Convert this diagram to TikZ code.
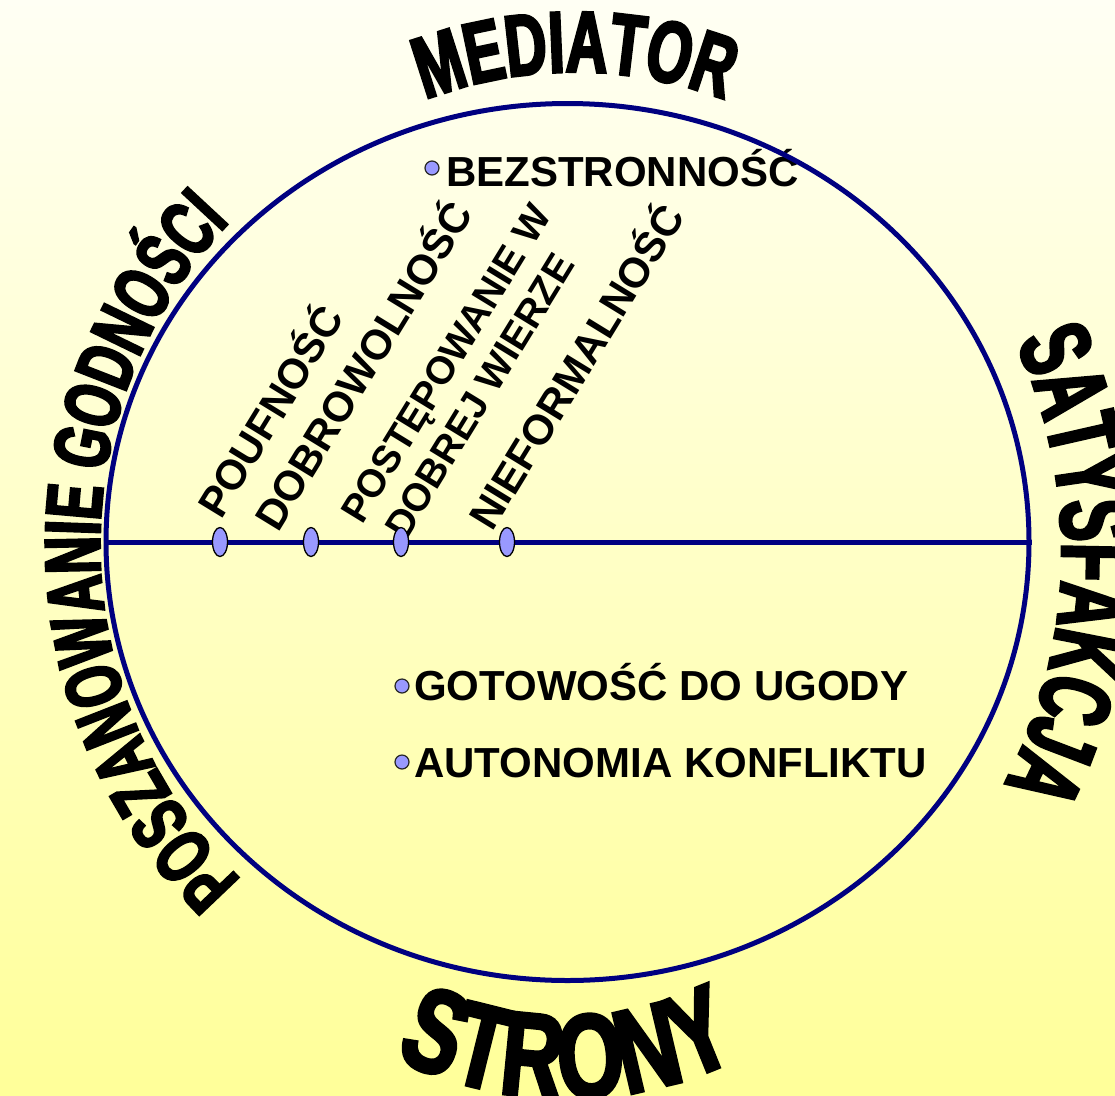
\documentclass[tikz,border=0pt]{standalone}
\usepackage{fontspec}
\setmainfont{Liberation Sans}
\newfontfamily\waA[FakeStretch=0.62,FakeBold=3]{Liberation Sans}
\newfontfamily\waB[FakeStretch=0.66,FakeBold=3]{Liberation Sans}
\newfontfamily\waC[FakeStretch=0.72,FakeBold=3]{Liberation Sans}
\usetikzlibrary{decorations.text,shapes.geometric}
\definecolor{navy}{RGB}{0,0,128}
\definecolor{bblue}{RGB}{153,153,255}
\definecolor{bgtop}{RGB}{255,255,244}
\definecolor{bgbot}{RGB}{255,255,153}
\begin{document}
\begin{tikzpicture}[x=1pt,y=-1pt,
  rtext/.style={anchor=base west, rotate=58.5, inner sep=0pt, font=\bfseries\fontsize{42}{48}\selectfont},
  rtextsmall/.style={rtext, font=\bfseries\fontsize{39}{44}\selectfont},
  htext/.style={anchor=base west, inner sep=0pt, font=\bfseries\fontsize{42}{50}\selectfont},
  bullet/.style={circle, draw=black!85, line width=1.2pt, fill=bblue, minimum size=14pt, inner sep=0pt},
  marker/.style={ellipse, draw=black, line width=1.3pt, fill=bblue, minimum width=15pt, minimum height=29pt, inner sep=0pt},
  rim/.style={draw=navy, line width=5pt},
]
\shade[top color=bgtop, bottom color=bgbot] (0,0) rectangle (1115,1095);
\useasboundingbox (0,0) rectangle (1115,1095);

% arched titles
\path[decorate, decoration={text along path, text align=center,
  text={|\waB\bfseries\fontsize{87}{87}\selectfont|MEDIATOR}}]
  ([shift={(-125:417)}]575,489) arc[start angle=-125, end angle=-55, radius=417];
\path[decorate, decoration={text along path, text align=center,
  text={|\waC\bfseries\fontsize{119}{119}\selectfont|STRONY}}]
  ([shift={(125:390)}]567,708) arc[start angle=125, end angle=55, radius=390];
\path[decorate, decoration={text along path, text align=center,
  text={|\waA\bfseries\fontsize{100}{100}\selectfont|SATYSFAKCJA}}]
  ([shift={(-37:495)}]567,552) arc[start angle=-37, end angle=40, radius=495];
\path[decorate, decoration={text along path, text align=center,
  text={|\waB\bfseries\fontsize{79}{79}\selectfont|POSZANOWANIE GODNOŚCI}}]
  ([shift={(119:467)}]567,545) arc[start angle=119, end angle=239, radius=467];

% rotated labels
\node[rtext] (pouf) at (221,521) {POUFNOŚĆ};
\node[rtext] (dobr) at (278,534) {DOBROWOLNOŚĆ};
\node[rtextsmall] (post) at (362,526) {POSTĘPOWANIE W};
\node[rtextsmall] (wier) at (406,542) {DOBREJ WIERZE};
\node[rtext] (nief) at (492,533) {NIEFORMALNOŚĆ};

% bulleted labels
\node[bullet] (b1) at (432,168) {};
\node[htext] (bez) at (446,186) {BEZSTRONNOŚĆ};
\node[bullet] (b2) at (402,686) {};
\node[htext] (got) at (414,700) {GOTOWOŚĆ DO UGODY};
\node[bullet] (b3) at (402,762) {};
\node[htext] (aut) at (414,777) {AUTONOMIA KONFLIKTU};

% circle and diameter
\node[ellipse, rim, minimum width=923pt, minimum height=877pt, inner sep=0pt] (ring) at (567.5,542) {};
\draw[rim] (ring.west) -- (ring.east);
\node[marker] (m1) at (220,542) {};
\node[marker] (m2) at (311,542) {};
\node[marker] (m3) at (401,542) {};
\node[marker] (m4) at (507,542) {};
\end{tikzpicture}
\end{document}
